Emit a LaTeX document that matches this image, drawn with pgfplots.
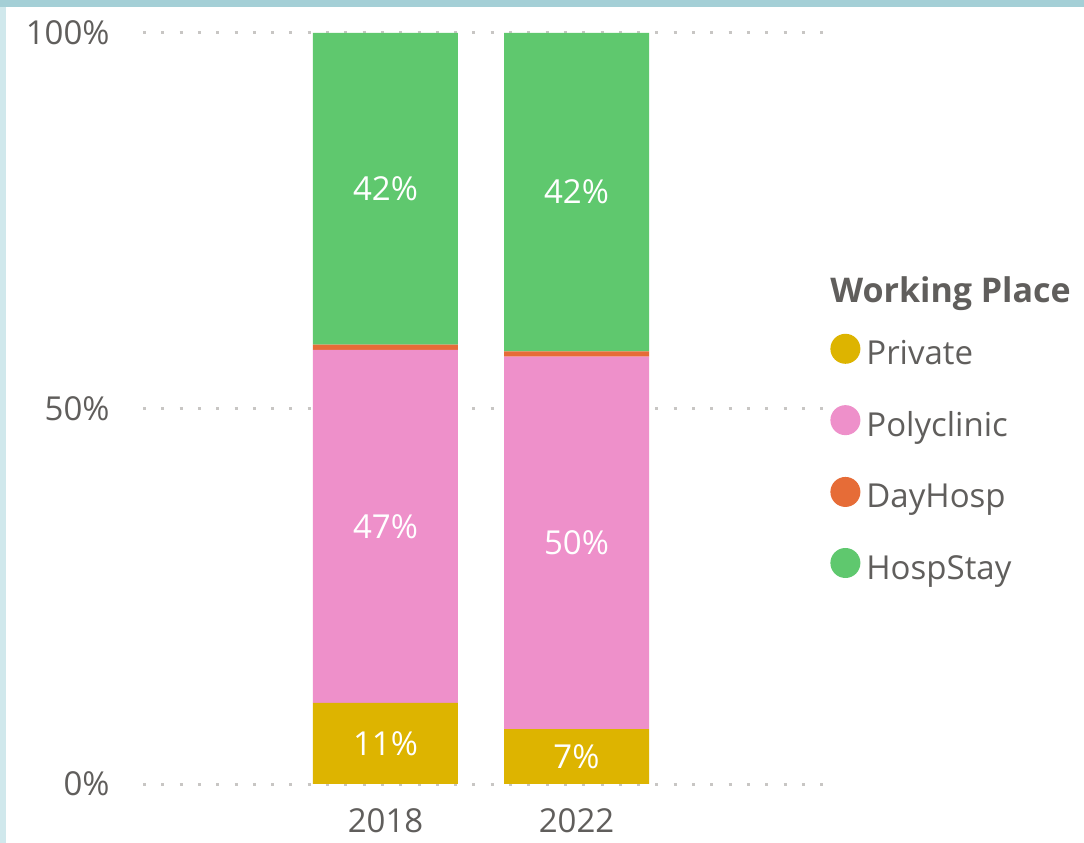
\documentclass[border=0pt]{standalone}
\usepackage{fontspec}
\setmainfont{Open Sans}
\usepackage{pgfplots}
\pgfplotsset{compat=1.18}

\definecolor{cPriv}{HTML}{DDB400}
\definecolor{cPoly}{HTML}{EE90CA}
\definecolor{cDay}{HTML}{E66C37}
\definecolor{cHosp}{HTML}{5FC86E}
\definecolor{cText}{HTML}{605E5C}
\definecolor{cGrid}{HTML}{C8C6C4}
\definecolor{cTop}{HTML}{A4CFD6}
\definecolor{cLeft}{HTML}{D0E8EC}

\newcommand{\lblfont}{\fontsize{16.5bp}{20bp}\selectfont}

\pgfplotsset{
  base/.style={
    at={(71.5bp,29.5bp)}, anchor=south west,
    scale only axis, width=343.5bp, height=375.5bp,
    xmin=-1.2696, xmax=2.3272, ymin=0, ymax=100,
  },
}

\begin{document}
\begin{tikzpicture}
\fill[white] (0,0) rectangle (542bp,421.5bp);
\useasboundingbox (0,0) rectangle (542bp,421.5bp);

% stacked bars, values in percent
\begin{axis}[
  base,
  ybar stacked, bar width=72.5bp,
  xtick={0,1}, xticklabels={2018,2022},
  ytick={0,50,100},
  yticklabel={\pgfmathprintnumber{\tick}\%},
  /pgf/number format/assume math mode=true,
  axis line style={draw=none}, major tick length=0pt,
  ymajorgrids,
  grid style={line width=1.5bp, cGrid, dash pattern=on 1.5bp off 7.65bp},
  tick label style={font=\lblfont, text=cText},
  xticklabel style={anchor=base, yshift=-24bp, inner sep=0pt},
  yticklabel style={anchor=east, xshift=-16.5bp, inner sep=0pt},
  legend style={at={(1,0.6)}, anchor=north west, draw=none, fill=none,
    inner sep=0pt, row sep=16.6bp, column sep=1bp,
    font=\lblfont, text=cText},
  legend cell align=left,
  every axis plot post/.append style={
    legend image code/.code={\fill[##1] (7.5bp,0.28em) circle (7.5bp);}},
]
\addplot[fill=cPriv, draw=none] coordinates {(0,10.8) (1,7.3)};
\addlegendentry{Private}
\addplot[fill=cPoly, draw=none] coordinates {(0,47.0) (1,49.6)};
\addlegendentry{Polyclinic}
\addplot[fill=cDay, draw=none] coordinates {(0,0.7) (1,0.7)};
\addlegendentry{DayHosp}
\addplot[fill=cHosp, draw=none] coordinates {(0,41.5) (1,42.4)};
\addlegendentry{HospStay}
\end{axis}

% data labels at segment centres
\begin{axis}[
  base, hide axis,
]
\addplot[draw=none, mark=none, point meta=explicit symbolic,
  nodes near coords={\pgfplotspointmeta\%},
  every node near coord/.style={anchor=center, font=\lblfont, text=white, inner sep=0pt}]
  coordinates {
  (0,5.4) [11] (0,34.3) [47] (0,79.2) [42]
  (1,3.65) [7] (1,32.1) [50] (1,78.8) [42]
  };
\end{axis}

\node[anchor=base west, inner sep=0pt, text=cText,
  font=\fontsize{17bp}{20bp}\selectfont\bfseries] at (415bp,270bp) {Working Place};

\fill[cLeft] (0,0) rectangle (3bp,421.5bp);
\fill[cTop] (0,418bp) rectangle (542bp,421.5bp);
\end{tikzpicture}
\end{document}
